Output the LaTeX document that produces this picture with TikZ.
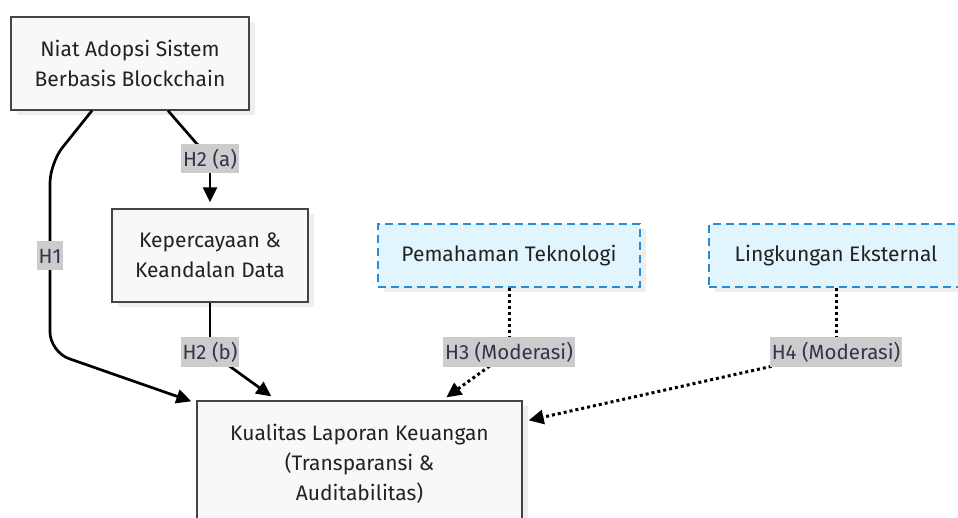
\documentclass[tikz,border=0pt]{standalone}
\usepackage{fontspec}
\setmainfont{Fira Sans}
\usetikzlibrary{arrows.meta,shadows}
\definecolor{boxfill}{HTML}{F8F8F8}
\definecolor{bordercol}{HTML}{444444}
\definecolor{textcol}{HTML}{222222}
\definecolor{shadowcol}{HTML}{EEEEEE}
\definecolor{modblue}{HTML}{2A8AD4}
\definecolor{modfill}{HTML}{E1F5FE}
\definecolor{lblbg}{HTML}{CCCCCC}
\definecolor{lbltext}{HTML}{33334D}
\tikzset{
  box/.style={draw=bordercol, line width=1.3pt, fill=boxfill, align=center,
    font=\fontsize{21}{30}\selectfont, text=textcol, inner sep=0pt,
    drop shadow={shadow xshift=6pt, shadow yshift=-5pt, fill=shadowcol, opacity=1}},
  modbox/.style={box, draw=modblue, fill=modfill, dash pattern=on 8pt off 5pt},
  lbl/.style={fill=lblbg, text=lbltext, font=\fontsize{20.5}{22}\selectfont,
    inner xsep=2pt, inner ysep=0pt, minimum height=29pt},
  plain/.style={line width=2.7pt, draw=black},
  conn/.style={plain, -{Triangle[length=15pt,width=14pt]}},
  dots/.style={line width=3pt, draw=black, dash pattern=on 3pt off 3pt},
  dotarr/.style={dots, -{Triangle[length=15pt,width=14pt]}}
}
\begin{document}
\begin{tikzpicture}[x=1pt,y=-1pt]
\useasboundingbox (0,0) rectangle (958,518);
\clip (0,0) rectangle (958,518);

\node[box, minimum width=238pt, minimum height=93pt] (A) at (130,63.5)
  {Niat Adopsi Sistem\\Berbasis Blockchain};
\node[box, minimum width=196pt, minimum height=93pt] (B) at (210,255.5)
  {Kepercayaan \&\\Keandalan Data};
\node[modbox, minimum width=262pt, minimum height=63pt] (C) at (509,255.5)
  {Pemahaman Teknologi};
\node[modbox, minimum width=254pt, minimum height=63pt] (D) at (836,255.5)
  {Lingkungan Eksternal};
\node[box, minimum width=325pt, minimum height=126pt] (E) at (359.5,464)
  {Kualitas Laporan Keuangan\\(Transparansi \&\\Auditabilitas)};

\coordinate (l1) at (50,256);
\coordinate (l2a) at (210,159);
\coordinate (l2b) at (210,352);
\coordinate (l3) at (509,352);
\coordinate (l4) at (836,352);

% H1
\draw[conn, rounded corners=20pt] ([shift={(-38,0)}]A.south) -- (50,163) -- (l1)
  -- (50,352) -- ([shift={(-5,1)}]E.north west);
% H2 (a)
\draw[plain] ([shift={(38,0)}]A.south) -- (l2a);
\draw[conn] (l2a) -- ([shift={(0,-6)}]B.north);
% H2 (b)
\draw[plain] (B.south) -- (l2b);
\draw[conn] (l2b) -- ([shift={(75,-4)}]E.north west);
% H3
\draw[dots] (C.south) -- (l3);
\draw[dotarr] (l3) -- ([shift={(250,-3)}]E.north west);
% H4
\draw[dots] (D.south) -- (l4);
\draw[dotarr] (l4) -- ([shift={(6,20)}]E.north east);

\node[lbl] (L1) at (l1) {H1};
\node[lbl] (L2a) at (l2a) {H2 (a)};
\node[lbl] (L2b) at (l2b) {H2 (b)};
\node[lbl] (L3) at (l3) {H3 (Moderasi)};
\node[lbl] (L4) at (l4) {H4 (Moderasi)};
\end{tikzpicture}
\end{document}
